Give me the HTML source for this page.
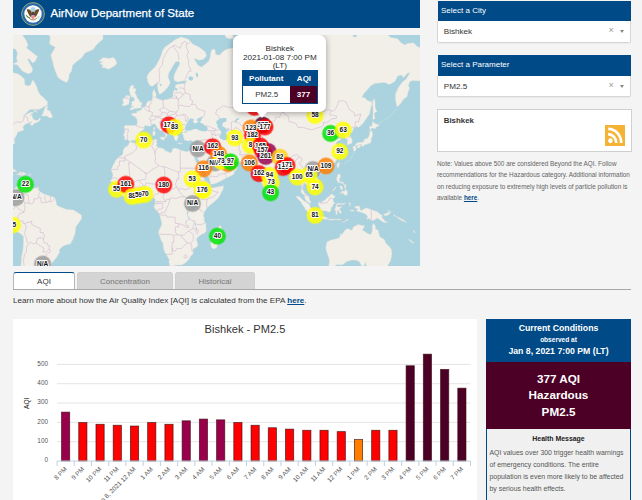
<!DOCTYPE html>
<html>
<head>
<meta charset="utf-8">
<title>AirNow Department of State</title>
<style>
*{box-sizing:border-box;margin:0;padding:0}
html,body{width:642px;height:500px;overflow:hidden;background:#f4f4f4;font-family:"Liberation Sans",sans-serif;color:#333}
.abs{position:absolute}
#hdr{left:13px;top:0;width:407px;height:27.5px;background:#004a87}
#hdr .t{-webkit-text-stroke:.25px #fff;position:absolute;left:37.5px;top:5px;font-size:11.55px;color:#fff;white-space:nowrap;line-height:16px}
#map{left:13px;top:35px;width:407px;height:230.5px;background:#aad3df;overflow:hidden}
.ph{background:#004a87;color:#fff;font-size:8px;line-height:20.6px;padding-left:3.5px;height:20.6px;left:437.5px;width:193.5px;white-space:nowrap}
.sel{left:437.2px;width:194.3px;height:21.5px;background:#fff;border:1px solid #d6d6d6;border-top:none;border-radius:0 0 2px 2px;font-size:8.1px;line-height:21.6px;padding-left:5.6px;color:#333;box-shadow:0 1px 1px rgba(0,0,0,.04)}
.sel .x{position:absolute;left:170.3px;top:-1px;font-size:9px;color:#999}
.sel .ar{position:absolute;left:181.8px;top:9px;width:0;height:0;border-left:2.7px solid transparent;border-right:2.7px solid transparent;border-top:3px solid #888}
#cityb{left:437px;top:109.3px;width:194.7px;height:42.5px;background:#fff;border:1px solid #d0d0d0}
#cityb b{position:absolute;left:5.7px;top:4.7px;font-size:7.9px;color:#333;line-height:11px}
#note{left:437px;top:157.8px;width:196px;font-size:6.37px;line-height:11.4px;color:#636363;white-space:nowrap}
#note a{color:#004a87;font-weight:bold;text-decoration:underline}
.tab{top:271.5px;height:18px;border-radius:3px 3px 0 0;font-size:8px;line-height:17px;text-align:center;color:#777;background:#d4d4d4;border:1px solid #cfcfcf;border-bottom:none}
#tab1{left:13px;width:62px;background:#fff;color:#333;border:1px solid #b8b8b8;border-top:1.5px solid #004a87;border-bottom:none;height:18px}
#tabline{left:13px;top:289px;width:618px;height:1px;background:#a8a8a8}
#learn{left:13px;top:296.1px;font-size:8.09px;line-height:10px;color:#333;white-space:nowrap}
#learn a{color:#004a87;font-weight:bold;text-decoration:underline}
#chart{left:13px;top:318.5px;width:463.5px;height:182px;background:#fff}
#cc{left:486px;top:318.5px;width:145px;height:182px;background:#f0f0f0;border:1px solid #004a87;border-top:none}
#cc .h{position:absolute;left:-1px;top:0;width:145px;height:43.5px;background:#004a87;color:#fff;text-align:center;font-weight:bold}
#cc .m{position:absolute;left:-1px;top:43.5px;width:145px;height:66.5px;background:#4c0026;color:#fff;text-align:center;font-weight:bold;font-size:11.7px;line-height:16.3px;padding-top:9px}
#cc .hm{position:absolute;left:2.5px;top:114px;width:142px;font-size:6.9px;line-height:12px;color:#555;white-space:nowrap}
#cc .hh{font-weight:bold;color:#222;text-align:center;font-size:6.95px;line-height:12px;margin-left:-4px;margin-bottom:2.3px}
</style>
</head>
<body>
<div id="hdr" class="abs"><svg class="abs" style="left:8.4px;top:1.6px" width="24" height="24" viewBox="-12 -12 24 24">
<circle r="11.4" fill="#2a69b0" stroke="#9fae6a" stroke-width=".9"/>
<circle r="8.7" fill="#fbfbf8"/>
<circle cx="0" cy="-4.6" r="2.5" fill="#a9d3e6"/>
<path d="M-1.2 -1.5C-2.5 -4.5 -4.5 -5.2 -6.3 -4.2C-5.2 -1.5 -4.2 1.5 -2 3.2L-1 1.5Z" fill="#6b4a23"/>
<path d="M1.2 -1.5C2.5 -4.5 4.5 -5.2 6.3 -4.2C5.2 -1.5 4.2 1.5 2 3.2L1 1.5Z" fill="#6b4a23"/>
<path d="M-1.3 -2.2h2.6v3h-2.6z" fill="#5a4526"/>
<path d="M-1.9 0h3.8v1.2h-3.8z" fill="#27457e"/>
<path d="M-1.9 1.2h3.8v1.6c0 1.2-1 1.9-1.9 2.3c-.9-.4-1.9-1.1-1.9-2.3z" fill="#f08a8a"/>
<path d="M-7.2 1.2c.8 1.8 2.2 2.9 4.2 3.2l.2-.9c-1.800-.4-2.9-1.200-3.600-2.700z" fill="#4f8a3c"/>
<path d="M3.200 3.600l3.600-1.400M3.200 4.200l3.300-.2" stroke="#b9b39a" stroke-width=".5"/>
<path d="M-3.5 4.500c1 .9 2.200 1.400 3.500 1.400s2.500-.5 3.500-1.400" stroke="#6b5a3a" stroke-width=".7" fill="none"/>
</svg><div class="t">AirNow Department of State</div></div>
<div id="map" class="abs"><svg class="abs" style="left:0;top:0" width="407" height="230.5" viewBox="0 0 407 230.5">
<path d="M168.4 2.1L162.8 4.2L157.2 8.4L151.5 12.6L149.4 16.1L148.0 21.0L145.2 26.6L142.4 31.6L138.9 35.1L135.4 38.6L134.0 42.1L134.7 46.3L136.8 50.5L139.6 51.2L143.1 48.4L144.5 47.0L144.5 51.9L145.2 56.1L146.6 59.6L151.5 56.1L155.1 51.9L157.2 47.7L155.1 42.1L155.8 37.9L159.3 32.3L162.1 27.3L165.6 25.9L167.0 28.8L164.2 33.7L162.1 37.9L160.7 42.1L161.4 45.6L164.9 47.0L169.1 46.0L174.0 45.6L171.9 48.4L166.3 49.1L162.8 49.8L162.1 52.6L164.9 54.0L163.7 56.1L161.4 54.7L160.0 57.5L160.0 61.7L157.2 63.8L153.6 64.5L149.4 65.2L146.6 64.5L143.1 63.1L143.1 58.9L141.7 56.1L141.0 54.0L139.6 57.5L139.6 63.1L138.9 65.9L140.2 65.4L137.7 65.7L136.1 66.0L134.1 67.1L133.3 69.2L132.0 71.4L130.3 72.1L128.8 72.9L128.7 74.5L126.5 75.8L124.2 76.5L123.6 75.8L123.6 78.3L121.3 78.0L118.5 78.8L119.1 80.5L122.1 81.5L122.9 82.9L124.2 84.8L124.2 87.9L123.6 90.6L120.4 90.6L116.3 90.4L113.0 90.2L111.1 91.5L111.7 94.0L111.9 96.6L110.7 99.6L110.6 101.1L111.7 101.8L111.7 103.6L111.4 104.7L113.2 104.7L114.7 104.3L115.8 105.5L117.0 106.7L118.8 105.3L122.6 105.3L123.6 103.8L125.0 103.2L126.2 101.1L125.7 99.4L127.5 96.6L129.8 95.3L131.5 93.6L131.1 91.3L132.8 90.6L134.9 91.1L137.1 91.3L138.7 90.0L140.7 88.6L143.0 89.7L143.5 92.0L145.6 93.8L146.9 95.3L148.9 95.8L149.9 97.1L151.9 98.4L152.5 100.5L152.0 102.6L152.9 102.6L154.3 100.5L153.5 99.2L154.2 97.3L156.3 98.4L156.7 97.7L154.5 96.2L152.5 95.1L152.5 94.2L150.9 94.0L149.2 92.2L148.6 90.4L146.6 88.8L146.4 86.5L148.6 85.5L148.8 87.2L150.1 86.7L151.2 89.0L152.9 90.6L155.0 91.8L156.7 93.1L158.1 94.4L158.1 97.3L159.1 99.0L160.8 100.9L161.1 103.0L161.9 105.1L163.2 105.7L164.2 105.7L164.1 104.0L165.0 103.0L165.7 102.6L164.4 100.5L163.7 99.4L163.6 97.7L164.9 97.9L165.7 96.8L168.2 96.4L169.0 97.1L170.1 97.5L169.3 98.4L170.3 100.5L170.3 101.8L171.1 103.4L171.1 105.1L172.8 105.3L174.4 106.1L176.4 105.9L177.2 104.9L179.7 106.5L181.8 106.3L183.5 105.1L185.5 105.1L185.3 107.1L185.1 109.7L184.6 110.9L183.8 113.1L183.2 115.0L182.5 116.0L181.5 116.4L179.9 116.4L179.4 116.0L179.7 118.5L180.5 120.8L181.8 122.3L182.6 122.8L183.6 119.4L183.8 122.3L186.3 126.0L187.4 128.7L189.6 132.3L190.6 134.4L192.0 137.6L194.0 140.2L196.2 142.8L196.8 145.7L197.5 148.2L197.8 149.2L200.3 149.1L203.6 147.9L206.9 146.5L210.1 144.8L212.1 143.6L214.3 142.4L216.7 141.4L219.2 140.2L221.2 138.4L221.3 136.2L223.0 135.5L224.6 132.3L222.7 130.3L220.0 129.2L219.0 127.8L218.9 125.6L218.4 126.3L217.2 127.2L215.7 128.9L212.8 129.2L211.1 129.1L211.1 127.2L210.5 125.8L209.8 126.9L209.7 128.0L208.8 126.7L208.7 124.9L206.9 123.0L206.0 121.3L205.2 119.6L205.2 118.5L206.7 117.7L208.5 118.1L209.8 120.4L211.0 122.5L213.4 124.5L215.9 124.9L218.9 123.9L220.0 124.5L220.5 126.5L222.5 126.9L225.9 127.2L227.6 127.4L230.7 127.2L233.2 127.2L235.7 127.1L236.5 128.1L237.3 129.8L238.5 130.1L239.8 132.5L240.1 132.8L241.9 135.1L243.1 135.3L244.9 134.6L245.5 132.8L245.9 134.1L246.0 136.7L246.0 138.4L246.9 141.9L247.7 144.5L248.8 147.9L250.1 150.7L251.6 153.8L252.8 156.1L253.8 156.9L254.9 155.8L256.2 154.9L257.6 153.3L257.7 151.2L258.4 148.5L258.0 145.3L259.5 143.6L261.7 142.6L263.6 140.5L266.1 137.7L268.6 136.2L269.4 134.2L271.0 133.7L272.7 133.5L275.2 132.6L276.8 131.9L277.6 134.1L278.1 135.5L280.1 137.6L281.4 139.3L281.7 142.8L281.4 143.6L283.1 144.0L284.5 142.8L285.9 142.1L287.0 143.3L287.2 145.7L287.8 147.9L288.5 150.4L288.7 152.9L288.0 155.4L288.0 157.1L289.2 158.8L291.1 160.1L291.5 162.1L292.1 164.0L293.1 165.7L295.1 167.2L296.6 168.2L297.7 168.0L297.4 166.2L296.4 164.5L296.4 162.9L295.2 160.9L294.3 160.1L292.9 158.9L291.6 158.4L291.0 156.3L289.6 154.9L289.5 152.9L290.5 150.7L290.8 148.2L292.3 148.0L292.8 149.2L294.6 150.1L295.7 151.6L296.9 152.8L298.7 153.1L299.0 155.4L298.7 156.1L299.9 155.4L301.8 153.3L302.8 153.1L305.3 151.6L306.1 149.6L306.1 147.4L305.3 144.5L303.6 142.6L301.5 140.5L300.2 138.4L300.7 136.7L302.0 135.3L304.0 134.1L305.6 133.9L306.8 134.2L307.1 136.0L308.1 135.8L308.1 134.4L310.2 133.7L313.0 132.8L314.2 132.6L316.3 131.7L318.3 130.8L320.4 128.9L322.6 126.7L323.4 124.5L324.9 122.3L326.5 120.0L327.0 118.5L325.9 117.7L326.8 116.8L326.7 115.2L325.0 113.5L324.2 110.3L322.6 108.7L324.2 106.5L327.8 104.7L327.7 103.6L325.4 103.4L322.9 104.3L321.9 103.0L320.1 101.3L320.1 100.1L322.1 100.1L325.4 96.8L327.2 97.1L325.7 100.1L326.5 100.7L328.7 99.2L330.8 98.6L332.3 99.6L331.9 102.0L332.4 103.2L334.6 104.3L334.3 106.7L334.4 109.1L334.1 109.9L336.1 109.3L338.5 108.5L339.2 106.7L339.2 104.7L337.7 102.0L336.1 99.4L336.9 98.4L339.7 96.4L339.7 95.1L341.2 93.1L343.5 91.3L345.4 92.4L348.4 90.0L350.9 87.2L353.3 83.6L356.6 78.8L357.5 73.7L358.9 69.2L358.6 66.5L356.6 66.2L353.3 64.8L352.2 62.9L348.9 62.3L350.9 58.5L354.2 55.0L357.5 50.9L361.6 48.4L366.5 48.1L371.5 47.4L376.4 49.4L379.7 47.7L382.2 46.1L384.6 41.1L388.7 40.0L390.4 42.8L394.5 38.3L397.0 37.6L395.0 41.1L392.9 44.5L389.6 46.8L385.4 52.5L384.1 55.6L382.6 58.5L382.3 62.9L383.0 67.6L384.1 72.1L387.3 69.0L390.5 64.3L394.2 61.5L394.8 57.7L396.6 53.1L395.3 50.6L397.0 46.4L399.8 45.5L406.5 46.1L409.3 42.8L413.4 40.0L417.5 37.6L420.8 35.8L422.5 28.2L422.5 11.4L415.9 8.1L407.0 12.5L404.4 11.7L400.5 7.8L394.2 8.6L391.9 10.1L388.0 7.8L384.9 3.9L377.1 2.3L374.0 -1.0L344.0 -1.0L343.6 1.5L341.0 2.3L339.0 -1.0L249.6 -8.9L245.5 -0.8L246.0 9.0L247.2 15.8L244.7 22.2L243.1 22.2L244.7 13.6L243.9 4.2L239.8 -8.9L236.0 6.7L239.0 13.6L231.5 10.0L225.0 12.3L216.7 13.6L216.8 13.3L211.2 15.4L206.2 20.3L202.7 19.6L202.0 14.7L199.2 14.0L197.8 17.5L197.1 22.4L195.7 25.9L192.9 28.8L190.8 30.2L188.7 32.3L185.2 30.2L183.1 27.3L181.0 23.1L185.9 25.2L190.1 24.5L193.6 21.0L192.2 16.8L185.9 11.9L179.6 9.1L175.4 4.2ZM116.5 107.1L117.5 106.9L121.3 108.1L122.9 108.5L124.6 107.3L126.2 106.9L128.7 105.7L131.1 105.1L134.4 105.1L137.7 104.7L140.4 104.9L142.3 104.0L143.2 105.1L144.3 104.7L143.6 105.9L143.6 107.7L144.3 108.7L143.0 110.1L144.0 111.3L145.1 112.3L146.8 113.1L148.1 112.9L151.2 114.1L151.7 115.6L155.0 116.8L157.5 117.9L159.1 116.6L159.1 114.3L161.6 112.9L164.1 113.5L167.3 115.0L170.6 116.0L173.9 116.8L176.1 115.8L178.0 115.6L179.4 116.0L179.7 118.5L180.0 120.4L181.3 122.6L182.2 125.0L183.8 128.1L184.8 129.8L186.9 133.2L187.4 134.9L187.6 137.4L189.6 140.2L190.9 143.6L191.5 145.0L193.7 146.2L196.0 148.4L197.3 149.6L197.5 151.1L197.3 151.4L198.6 152.9L201.9 152.4L205.2 151.7L207.7 151.4L210.5 150.6L210.3 152.9L209.8 154.9L208.2 157.4L206.9 160.4L205.2 162.9L202.7 165.4L200.8 167.0L197.8 169.5L195.3 171.8L193.7 173.6L192.4 175.2L191.4 177.2L190.7 179.4L190.1 181.0L191.2 182.2L191.1 184.8L191.7 187.0L192.9 188.0L193.0 191.9L193.4 194.4L192.9 196.6L191.2 198.4L188.7 199.2L186.9 200.4L184.6 202.5L183.5 203.7L183.8 205.7L184.6 207.8L184.6 211.0L183.0 212.6L180.5 213.5L179.9 214.6L180.4 217.4L179.5 219.6L177.7 221.3L175.9 224.4L173.1 227.3L170.6 229.1L168.5 229.9L164.9 230.1L162.4 230.3L159.1 231.5L157.1 230.5L156.5 230.5L156.3 227.9L155.8 226.9L156.3 225.0L154.7 222.1L153.4 219.5L152.0 217.4L150.9 214.6L150.1 211.0L150.1 208.5L148.4 205.7L146.8 201.6L145.6 199.0L145.6 197.0L146.4 194.4L148.3 191.0L148.9 188.5L148.3 186.0L147.9 184.8L147.3 181.8L146.3 180.2L146.4 178.5L145.6 177.7L144.3 176.4L142.2 174.1L141.0 171.9L141.5 170.0L142.3 168.7L142.0 166.7L142.3 165.0L141.8 163.7L140.7 162.9L139.9 162.9L137.7 163.1L136.1 163.2L134.8 161.7L133.6 160.1L131.8 159.7L130.3 159.9L128.2 160.2L127.0 160.9L125.9 161.2L123.2 162.4L121.6 162.1L119.6 161.7L116.3 162.4L113.9 163.1L111.4 161.7L108.4 159.9L107.3 158.9L105.6 157.9L104.5 156.3L104.3 154.9L103.6 154.4L102.3 152.9L101.5 152.1L100.2 150.7L98.7 149.7L98.5 148.2L98.2 146.5L97.4 145.8L98.1 145.3L99.0 143.6L99.4 141.9L99.9 140.2L99.5 137.9L99.0 136.7L98.1 135.1L98.2 134.1L99.4 131.9L100.0 130.1L101.5 128.1L102.3 125.8L104.0 124.1L104.8 122.5L107.3 121.3L109.4 119.8L110.2 117.7L110.1 115.6L111.1 113.5L112.5 111.9L113.7 111.5L115.0 110.5L116.0 108.7ZM207.3 190.2L208.8 193.6L209.3 196.1L208.2 197.8L207.7 200.4L206.5 204.8L204.9 209.2L203.6 212.8L200.6 213.9L198.6 212.8L197.5 208.0L199.1 204.8L199.1 201.3L198.6 198.7L199.4 197.3L202.4 196.5L204.1 194.9L205.2 192.7L206.5 191.0ZM116.8 74.7L118.8 71.9L121.3 71.4L117.6 70.6L119.1 69.0L118.6 67.3L119.1 66.2L121.3 66.0L121.3 63.7L120.4 62.0L118.0 62.0L118.0 60.0L116.8 60.3L117.1 57.1L116.0 55.6L116.8 53.1L118.0 50.6L120.9 50.6L120.4 53.4L122.9 53.7L122.9 55.6L121.6 58.0L122.9 59.1L123.7 61.5L124.2 62.9L126.2 65.1L126.7 67.1L128.8 67.6L129.0 69.2L127.8 70.8L128.5 71.9L127.0 72.9L124.6 73.2L122.9 73.4L120.4 73.7L120.1 74.5L117.6 75.0ZM115.7 69.2L113.0 70.3L110.1 71.1L109.2 69.5L110.6 67.9L110.1 66.2L109.7 63.7L112.2 63.2L112.0 61.5L114.2 60.3L116.3 60.9L117.1 62.9L116.2 64.6L116.2 67.1ZM85.9 26.3L90.0 22.6L96.6 23.5L99.9 22.2L102.3 24.3L104.0 28.2L101.5 30.9L95.7 34.3L91.6 32.8L88.8 32.4L90.0 30.2L86.7 28.6L90.0 27.1ZM30.7 -8.9L35.7 -0.8L37.3 2.7L36.5 9.0L42.3 12.3L37.8 20.1L40.1 28.2L40.6 31.3L42.9 37.6L44.6 41.7L46.7 44.1L51.3 46.4L53.8 47.4L55.8 43.4L56.2 39.3L58.7 35.8L59.5 30.2L64.3 25.9L68.6 23.1L71.9 18.0L80.1 14.5L84.2 9.0L90.0 4.2L90.0 -8.9ZM341.7 110.7L344.3 107.7L346.8 107.5L350.1 107.3L351.4 104.7L352.2 103.6L354.2 103.8L355.8 101.5L356.6 98.8L356.6 96.8L358.3 95.3L359.1 97.3L359.9 99.4L359.1 102.0L358.3 103.6L358.0 105.7L358.0 107.3L356.6 108.7L356.1 107.9L355.0 108.7L354.2 109.3L352.0 109.5L351.4 109.9L349.7 111.7L348.6 110.3L348.9 109.5L346.8 109.5L345.1 110.1L343.8 110.7ZM341.7 110.9L343.0 112.1L343.3 113.7L342.3 115.8L341.3 116.6L340.5 116.0L340.7 113.7L339.7 112.7L339.7 111.9L340.8 111.3ZM344.3 110.7L346.8 109.9L347.9 110.7L347.3 112.1L345.1 113.1L344.1 112.3ZM356.6 95.1L357.1 93.3L356.3 92.7L357.3 91.1L358.8 91.3L359.4 88.3L359.6 86.3L361.6 88.3L363.7 89.5L365.4 88.8L365.7 91.1L363.2 92.0L362.1 94.0L359.9 92.9L358.3 93.1L358.0 94.4ZM359.9 84.8L362.2 83.4L361.2 80.0L361.6 77.5L364.0 77.0L362.1 72.4L362.1 67.1L361.2 63.4L359.9 65.7L359.6 69.8L360.1 75.0L359.9 80.0L359.8 83.4ZM325.4 127.4L326.8 127.8L326.2 130.5L325.0 133.2L324.0 131.4L324.2 129.2ZM305.1 138.1L306.4 136.7L308.6 136.7L308.9 137.6L307.9 139.1L306.4 139.8L305.1 139.1ZM257.7 154.1L259.2 154.9L260.8 157.9L260.7 159.6L258.9 160.6L257.9 160.1L257.6 157.9L257.6 155.8ZM283.1 161.1L286.7 161.7L288.7 164.0L290.8 165.7L292.4 166.7L296.6 169.5L297.1 171.9L298.2 173.3L300.7 175.2L300.5 179.9L299.5 179.9L298.2 179.5L295.7 177.9L294.4 176.6L292.4 174.4L291.3 171.9L289.2 169.5L288.3 167.3L286.7 165.7L285.0 164.0L283.4 162.1ZM299.4 181.5L300.7 180.0L302.0 180.4L304.8 181.2L308.1 181.7L308.9 180.9L311.5 181.7L314.5 183.0L314.7 184.5L312.2 184.0L308.9 183.8L305.6 183.0L303.1 183.0L301.3 182.3ZM315.5 183.7L317.1 184.0L318.8 184.2L322.1 184.2L323.7 184.0L328.3 184.0L328.3 184.8L323.7 184.8L322.1 184.8L318.8 185.2L317.1 185.0L315.8 184.8ZM329.5 187.3L331.9 185.2L335.2 184.2L335.6 184.7L331.9 186.2L330.3 187.2ZM305.6 167.3L306.6 167.0L308.9 167.7L309.6 166.0L312.2 165.0L313.8 162.9L316.1 161.4L318.3 158.9L319.1 158.9L319.9 159.9L322.4 161.6L320.8 162.9L319.9 164.4L320.4 166.5L322.1 168.7L320.1 169.1L319.6 171.6L318.0 172.8L318.0 175.2L317.1 176.7L314.8 177.1L313.5 175.9L310.6 175.9L307.6 175.1L307.3 172.8L305.9 171.1L305.6 169.5ZM323.4 169.0L325.0 168.2L328.7 168.8L331.1 168.3L332.3 167.7L331.1 169.6L328.7 169.6L325.4 169.6L324.0 170.3L323.9 171.6L325.7 171.9L329.2 171.8L327.0 173.4L326.2 173.6L328.3 176.9L328.3 178.2L326.5 178.0L325.5 175.2L324.4 174.9L324.4 178.0L324.2 179.4L322.9 179.4L322.9 176.1L321.7 174.9L322.6 172.3L323.4 170.3ZM324.7 139.3L327.3 139.3L327.5 141.9L326.4 144.0L326.4 146.5L327.8 146.7L330.3 147.4L330.5 149.4L328.7 148.2L326.7 147.5L324.9 147.4L324.7 146.2L323.7 145.3L323.7 143.3L324.4 141.0ZM327.0 158.8L329.3 156.1L331.5 156.3L332.8 154.3L334.1 156.3L334.4 158.8L333.6 159.9L332.8 160.9L332.3 160.1L330.3 159.1L330.3 157.8L328.7 157.9L327.3 158.9ZM330.8 149.6L332.4 149.6L333.1 151.7L332.3 153.4L331.5 153.3L331.6 151.6ZM327.0 150.7L329.0 151.2L329.5 152.9L329.2 154.9L328.0 154.8L327.8 152.9L327.0 152.9ZM319.3 156.4L321.3 154.9L322.9 152.8L322.9 151.6L321.7 153.3L320.1 154.9ZM336.1 167.0L336.9 168.3L338.0 168.2L336.9 169.5L337.5 171.5L336.6 170.8L336.2 169.0ZM336.9 175.2L339.4 174.9L341.5 175.7L340.2 176.2L337.7 176.1ZM341.8 171.6L344.3 171.0L346.8 171.6L347.1 174.4L348.4 175.7L350.9 173.9L353.3 172.9L358.3 174.6L361.6 175.9L364.0 176.6L366.2 178.5L369.0 180.2L369.5 181.5L368.2 181.5L369.8 183.5L372.3 186.3L374.4 187.3L373.1 187.8L369.8 187.0L367.3 185.0L364.0 183.0L362.4 184.2L360.8 185.5L358.3 185.3L355.8 183.5L353.3 184.2L354.7 181.8L353.3 179.4L350.1 177.9L345.9 176.6L344.8 176.9L343.5 174.9L345.9 174.1L343.5 173.6L341.8 172.6ZM370.3 179.5L373.1 178.5L375.6 177.2L376.9 177.4L376.4 179.0L373.9 180.5L371.5 180.5ZM314.0 207.1L317.1 205.3L320.4 204.4L322.9 203.9L325.9 203.0L327.5 200.4L327.3 198.7L329.5 199.2L330.3 197.5L332.8 194.4L335.2 193.6L337.2 194.9L339.4 195.1L339.9 192.7L341.5 190.9L344.3 190.4L344.6 189.2L348.4 190.5L351.4 190.5L350.9 192.7L349.2 194.9L351.7 196.6L355.0 198.7L358.0 199.6L359.3 195.3L359.3 191.5L360.3 188.2L362.4 191.0L362.4 194.1L365.4 195.3L365.7 197.8L366.8 201.8L369.0 202.9L371.5 204.8L372.6 208.0L374.4 209.8L377.2 212.5L378.4 214.6L378.9 218.7L378.2 223.1L377.2 226.5L375.2 229.5L374.3 232.5L373.1 237.0L357.5 238.0L355.8 233.9L354.2 231.9L352.9 229.9L353.0 227.1L351.7 229.3L350.1 231.9L348.9 231.1L347.1 227.9L345.9 226.3L342.2 225.0L338.5 225.2L333.6 226.5L329.6 229.7L323.7 229.7L320.4 231.9L317.1 231.9L315.7 230.5L316.6 225.9L315.5 222.1L314.2 218.3L313.0 214.6L313.0 211.0ZM211.0 -1.4L213.4 2.7L216.7 3.7L220.8 3.2L218.4 -3.5L213.4 -8.9ZM179.4 108.7L180.5 109.5L182.2 108.7L183.2 107.5L181.3 107.9L179.7 108.3ZM164.9 107.7L166.5 107.9L169.5 108.3L167.3 108.9L164.9 108.3ZM146.6 102.6L148.4 102.2L151.9 102.0L151.1 104.7L150.9 105.3L147.6 103.8ZM139.7 100.5L139.9 96.6L141.3 95.8L142.3 97.3L142.0 100.1L141.0 100.5ZM140.4 93.1L141.7 91.8L141.8 94.0L141.3 95.3L140.5 94.7ZM130.2 99.4L131.3 98.6L131.8 99.2L131.1 99.9ZM-8.8 118.5L-3.8 112.7L-2.0 110.9L0.3 109.3L1.9 108.3L1.1 105.1L1.9 103.0L2.8 101.5L4.2 98.8L4.4 97.3L7.7 96.2L11.0 94.9L9.8 92.7L11.0 90.2L13.4 88.8L15.9 87.9L17.6 87.0L19.5 85.8L17.9 88.1L17.2 90.0L19.2 90.6L21.7 88.3L25.8 86.5L27.4 84.8L26.9 82.4L25.0 85.3L22.5 85.3L20.0 84.1L19.5 82.2L19.2 80.5L17.1 80.0L20.5 78.0L19.2 77.0L15.9 78.0L13.4 79.3L11.0 81.7L9.0 82.9L11.8 79.5L14.3 77.0L16.7 74.5L20.9 74.2L25.8 74.5L29.1 72.9L32.4 71.1L34.5 69.8L34.4 66.5L32.0 64.3L29.9 62.0L27.4 60.0L25.0 56.2L24.1 52.5L21.7 47.7L19.7 44.8L18.4 47.7L17.6 50.0L14.3 50.9L11.8 49.4L11.5 44.5L10.2 42.8L7.7 40.7L4.4 38.6L-0.5 37.6L-2.2 37.9L-8.8 39.3ZM28.6 81.0L30.4 77.0L31.6 73.7L32.7 71.6L34.8 70.8L34.0 74.5L34.8 75.2L37.3 76.3L38.1 78.8L39.5 81.0L38.6 83.2L37.3 82.7L35.7 82.4L34.0 81.0L31.6 81.0ZM20.0 75.2L22.5 75.5L24.6 77.3L22.5 77.0ZM-1.0 -1.0L8.5 -1.0L13.0 5.0L15.0 10.0L13.5 13.0L18.0 16.5L24.5 21.5L22.0 26.5L19.5 28.0L16.5 24.0L14.5 24.0L17.0 29.0L19.5 33.5L19.0 37.2L15.0 38.8L9.5 36.2L4.5 30.0L0.0 29.0L4.5 27.0L3.5 23.0L4.5 18.0L2.5 14.0L-1.0 13.5ZM-8.8 156.1L-1.0 156.1L1.9 153.1L3.1 152.1L8.2 149.7L9.3 152.1L11.0 150.1L14.3 152.9L20.9 153.4L24.1 152.6L25.8 155.4L30.7 159.1L35.7 160.6L40.6 162.2L42.3 163.7L43.9 170.3L47.2 171.9L53.8 174.4L60.4 174.9L62.8 176.4L68.3 179.9L68.8 183.5L65.3 188.5L62.8 191.9L62.0 198.7L59.9 204.4L57.1 209.2L55.1 209.2L50.0 211.0L46.4 214.6L46.4 217.6L43.9 222.1L40.4 226.3L38.3 229.3L33.7 231.7L30.7 233.9L30.7 242.2L6.0 242.2L8.3 227.9L8.5 222.1L10.0 214.6L10.5 207.4L10.5 201.3L7.7 198.7L2.8 196.1L0.6 193.2L-0.9 190.2L-3.0 186.0L-5.2 181.8L-8.8 178.5ZM3.6 139.7L6.0 139.8L8.2 140.7L11.0 139.7L13.6 139.1L11.3 137.7L8.2 136.9L6.0 136.9L6.4 138.4L3.7 139.1ZM-8.8 131.4L-5.5 131.2L-0.5 133.7L1.9 134.9L4.1 136.3L-0.5 136.9L-1.7 135.6L-3.8 133.9L-8.8 132.3ZM15.6 139.3L18.2 139.5L17.9 140.2L15.6 140.2ZM-2.7 139.5L0.6 140.0L-0.5 140.5L-2.7 140.0ZM24.5 152.6L26.0 152.4L25.8 153.6L24.3 153.6ZM383.8 181.2L385.4 182.3L389.2 184.2L390.9 186.0L389.6 186.2L386.3 184.0L384.0 182.2ZM390.4 184.0L391.7 185.7L393.3 187.8L392.0 187.5L390.7 185.5ZM396.1 204.3L398.6 206.0L401.1 208.0L399.9 208.0L397.5 206.4L395.8 204.6ZM400.4 195.3L401.6 196.3L402.4 198.0L401.6 197.7L400.4 196.3ZM374.4 174.6L376.9 176.1L378.2 177.9L377.4 177.7L375.6 175.7ZM380.7 179.4L382.2 180.5L382.8 181.7L381.7 181.4L380.8 180.2Z" fill="#f2efe9" stroke="#e4dfd6" stroke-width=".4" stroke-linejoin="round"/>
<path d="M122.6 108.5L123.7 113.7L120.3 117.2L117.1 118.9L111.9 121.0L111.9 123.6M111.9 123.6L111.9 126.0L106.4 126.0L106.4 130.7L104.8 131.4L104.8 134.4L98.2 134.4M111.9 122.9L104.6 122.9M111.9 123.6L118.3 127.8L128.1 134.8L128.2 135.5L131.5 137.0L131.6 138.4L133.2 138.2L135.7 137.7L138.5 135.1L146.0 130.5M118.3 127.8L115.5 128.0L117.0 142.8L117.5 144.5L110.9 144.5L108.6 144.6L107.3 144.3L106.1 145.7M99.0 143.4L101.5 142.6L104.0 143.4L106.1 145.7L107.4 149.7M98.7 149.9L103.6 149.4L107.4 149.7L111.6 150.1L112.5 152.1L113.0 153.4L116.0 152.8L117.1 153.1L121.6 154.4M98.5 147.7L103.2 147.9L103.2 148.4L98.7 148.5M101.5 152.1L103.6 150.9L103.6 149.4M104.3 155.4L108.6 153.8L109.2 156.3L107.3 158.9M109.2 156.3L110.9 158.1L112.2 157.8L112.5 159.7L113.9 163.1M113.0 153.4L112.5 156.3L112.2 157.8M121.6 154.4L121.8 157.4L120.9 160.4L121.1 161.9M126.2 152.1L127.0 157.1L127.2 158.9L128.2 160.2M127.7 152.1L128.8 155.4L128.8 159.9M132.1 150.9L132.1 153.8L130.6 157.1L130.6 159.7M117.1 153.1L117.6 150.7L119.0 149.6L119.6 148.0L121.6 147.0L122.9 146.2L125.0 145.3L126.5 145.5L127.7 147.7L129.8 149.7L130.2 150.6L132.1 150.9M121.6 154.4L121.6 152.1L126.0 152.1L127.7 152.1L130.2 150.6M133.2 138.2L133.1 142.1L132.1 144.5L128.3 144.8L126.5 145.5M132.1 150.9L132.8 147.9L137.7 148.7L141.0 149.1L143.5 148.2L148.4 147.5L149.4 148.5M146.0 130.5L149.6 132.1L150.9 131.4L151.9 136.7L151.7 142.1L148.4 146.2L148.6 147.5M140.4 104.9L139.9 108.7L138.5 111.1L141.0 114.7L141.8 118.1L143.2 115.2L145.1 112.3M141.8 118.1L142.3 121.7L142.5 125.0L141.7 125.6L142.7 128.1L146.0 130.5M150.9 131.4L165.7 137.6L165.7 136.7L167.3 136.7L167.3 133.2L167.3 120.0L166.9 118.1L167.7 115.4M167.3 133.2L177.9 133.2L186.9 133.2M165.7 137.6L165.7 144.1L163.9 144.1L163.2 147.0L162.4 149.4L163.9 152.1L161.9 152.8L157.5 155.4L154.2 157.6L151.7 157.9L149.2 153.8L151.2 152.4L150.2 149.2L149.4 148.5M149.4 148.5L148.6 151.2L146.3 155.4L145.1 159.1L142.7 158.9L140.7 160.7L140.4 162.7M142.3 166.5L144.8 166.7L148.1 166.7L152.7 166.7L150.2 162.9L150.1 160.4L151.7 157.9M142.3 168.7L144.8 168.7L144.8 166.7M144.8 168.7L147.9 168.2L149.9 168.7L149.1 170.3L150.1 172.9L147.6 174.3L145.3 174.1L144.3 176.7M152.7 166.7L153.5 164.5L156.8 164.5L156.8 163.2L159.1 162.9L163.1 163.5L166.5 161.9L171.3 161.9M156.8 164.5L155.5 169.5L153.4 173.6L152.2 176.9L151.2 177.5L147.8 177.9L146.3 179.9M163.9 152.1L165.0 153.9L169.0 153.8L172.3 154.8L175.6 153.8L178.9 150.4L180.8 150.1L180.7 152.6L182.3 154.6L182.2 156.3L180.5 157.4L184.3 161.4L185.3 162.7L182.2 163.4L179.5 164.2L177.1 164.5L174.8 162.9L171.3 161.9L167.8 158.3L166.0 155.9L165.0 153.9M182.3 154.6L182.7 152.8L183.8 150.4L185.6 149.2L186.3 146.5L187.1 141.9L189.7 140.2M186.3 146.5L188.6 145.7L192.0 146.2L195.0 147.9L196.0 149.6L197.1 149.2M196.0 149.6L195.0 152.1L197.0 152.1L197.5 151.2M197.0 152.1L197.5 154.4L200.3 156.1L203.6 157.1L205.2 157.1L200.3 162.1L197.8 162.6L195.3 163.5L195.2 163.9L191.2 164.7L188.9 164.4L186.9 163.1L185.3 162.7M195.2 163.9L193.7 165.7L193.7 171.6L194.7 173.1M182.2 163.4L183.8 167.5L182.3 169.8L182.0 171.9L188.1 175.2L188.3 176.1L190.7 178.0M177.1 164.5L177.7 166.8L175.4 169.0L174.9 172.6L176.4 172.1L182.0 171.9M174.9 172.6L173.9 174.7L174.6 177.5M176.4 172.1L176.9 174.3L176.2 175.2L174.6 177.5M173.9 174.7L176.9 174.3M177.2 184.5L180.4 185.8L182.0 186.2M183.6 189.4L187.9 189.7L192.7 187.7M146.3 179.9L147.6 180.0L153.5 180.0L154.2 182.3L158.1 181.8L159.1 182.3L162.1 182.3L162.4 188.5L165.7 188.5L165.7 191.9L162.4 191.9L162.4 197.3L164.7 199.7M165.7 189.0L167.8 189.2L170.5 190.0L171.0 191.0L173.9 192.6L175.3 192.6L175.3 190.5L173.9 190.9L172.9 189.9L173.3 185.5L176.9 183.8M145.6 199.2L149.2 199.4L156.5 199.4L160.8 200.3L164.7 199.7L167.8 200.1M160.8 200.9L160.8 207.4L159.1 207.4L159.1 212.5L159.1 219.1L153.4 219.5M159.1 212.5L159.9 216.1L162.4 215.9L164.1 213.4L168.2 213.9L170.5 211.0L174.6 207.8M167.8 200.1L169.0 203.0L171.8 204.8L172.3 206.5L174.6 207.8L177.7 208.1M167.8 200.1L170.6 200.4L173.8 197.0L176.2 196.3M176.2 196.3L178.9 198.2L180.5 199.6L180.0 202.2L180.5 203.9L179.7 206.2L177.7 208.1L178.9 211.9L178.7 214.5L179.0 216.1L180.4 216.3M175.9 195.3L180.5 193.6L180.0 192.9L180.8 189.5L181.0 186.2L180.4 185.8M180.5 193.6L183.0 194.4L185.3 195.1L185.1 197.0L184.3 198.9L182.8 197.5L183.2 194.3M171.0 221.3L172.6 219.6L174.4 221.0L173.1 223.2L171.3 222.7L171.0 221.3M111.7 94.2L115.5 94.2L114.8 98.4L114.2 99.4L114.7 102.2L114.0 104.3M123.2 90.9L127.4 92.2L131.5 93.1M138.5 90.0L137.7 87.2L137.7 85.1L136.1 84.4L137.7 81.5L138.7 81.0L139.7 77.5L136.7 76.3L135.7 76.3L133.1 75.0L130.3 72.1M136.7 76.3L136.2 74.7L136.1 72.4L136.4 70.0L137.7 69.2L138.1 66.5M131.8 71.4L134.4 71.4L136.1 72.4M137.7 85.1L140.2 84.8L141.0 84.8L143.5 82.7L142.0 81.2L140.4 80.7L138.7 81.0M142.0 81.2L147.6 81.2L148.9 78.0L146.4 74.5L150.6 72.4L150.2 68.4L149.7 64.6M150.6 72.4L154.0 74.2L157.1 76.3L163.4 77.3L165.7 73.4L165.0 69.8L165.5 64.6L163.7 63.2L158.6 63.2M143.5 82.7L146.3 82.4L148.8 83.6L148.6 85.8M148.9 78.0L150.9 77.5L154.2 78.5L154.3 80.0L153.4 82.4L152.7 82.9L148.8 83.6M154.3 80.0L157.1 80.5L159.1 79.5L162.6 79.0L163.9 80.0L160.8 84.4L159.4 84.6L157.1 85.1L153.4 83.6L152.7 82.9M154.2 78.5L157.1 76.3M163.9 80.0L167.2 80.7L170.0 79.5L172.5 82.9L172.6 86.0L175.1 86.7M160.8 84.4L161.6 86.7L163.4 88.1L163.9 90.0L168.2 90.2L170.6 89.3L173.3 90.2M148.6 85.8L151.4 86.0L153.4 83.6M151.4 86.0L152.2 86.7L152.5 89.0L155.2 91.8L156.7 92.9M157.1 85.1L157.5 87.4L158.1 89.0L157.8 90.6L156.7 92.9M152.2 86.7L157.5 87.4M158.1 89.0L159.6 92.2L158.1 94.2M159.6 92.2L163.1 93.3L163.9 90.0M159.6 92.2L160.1 94.2L159.9 96.2M159.1 99.0L160.8 96.6L164.1 95.5L167.3 95.5L169.5 94.7L169.7 96.4M169.5 94.7L172.3 94.0M163.1 93.3L164.1 95.5M159.9 96.2L160.8 96.6M165.0 71.1L167.3 70.0L171.5 71.1L176.4 71.6L178.5 69.5L182.2 69.0L184.6 74.0L188.7 75.2L192.0 76.0L191.5 80.3L189.1 82.2M162.6 79.0L163.4 77.3M170.0 79.5L172.6 79.5L175.6 83.9L172.6 86.0M164.9 64.6L168.7 62.0L170.0 59.4L172.6 58.0L177.1 59.7L177.2 64.3L180.0 66.0L178.5 69.5M160.8 58.3L167.2 57.4L170.0 59.4M166.2 52.8L169.0 53.1L171.3 54.0L171.8 55.9L172.6 58.0M171.3 54.0L171.3 50.0L172.5 48.1M163.7 63.2L164.9 64.6M160.8 60.6L163.7 61.5L163.7 63.2M172.0 44.5L175.6 36.5L178.2 36.1L175.4 29.0L175.7 25.5L173.9 20.6L175.6 17.2L173.1 11.8L173.9 9.0M166.0 25.1L165.2 18.4L160.1 10.9L161.3 10.0L167.3 13.2L169.0 8.1L172.3 6.2L173.9 9.0L176.9 7.6M145.1 49.4L146.8 44.5L146.3 41.1L146.0 33.9L149.2 30.2L150.1 23.9L153.2 18.0L156.0 13.6L160.1 10.9M140.5 61.7L142.5 62.0M114.2 61.2L112.7 62.9L116.2 64.0M194.5 95.1L197.8 96.0L198.0 97.7L199.9 99.0M192.0 90.9L196.2 91.3L198.6 92.7L202.6 94.2L204.1 95.5L206.0 94.4M202.6 94.2L202.7 96.0L200.3 95.5L201.1 96.8L201.9 99.0L202.7 100.7M197.8 96.0L200.3 95.5M199.9 99.0L202.7 100.7L205.2 99.0L206.7 101.8M206.2 118.5L204.7 116.6L205.0 114.7L202.1 112.7L200.9 110.7L202.2 108.3L200.9 106.7L199.9 104.3L199.0 101.8L198.8 99.6L199.9 99.0M185.3 106.9L186.4 106.3L186.6 105.3L189.6 105.1L193.7 104.5L196.0 104.5L199.9 104.3M196.0 104.5L194.0 105.9L194.3 107.5L193.7 109.9L190.1 111.9L186.8 114.1L185.0 113.3M190.1 111.9L190.7 114.3L187.1 115.6L188.7 117.5L187.9 118.5L185.6 120.0L183.8 119.6M190.7 114.3L192.7 114.9L195.3 116.4L199.8 120.0L202.7 120.2L204.7 121.3L205.9 121.3M202.7 120.2L204.2 118.3L205.2 118.5M184.0 112.5L184.8 112.1L185.0 113.3L184.6 115.6L183.8 119.4M182.5 116.0L183.6 119.4M184.8 112.1L186.1 109.7L185.5 109.5M196.6 142.9L197.3 141.2L199.3 141.2L203.2 141.6L204.4 141.9L205.5 139.8L207.0 139.1L211.8 138.4L213.6 142.4M211.8 138.4L216.7 136.7L217.9 133.2L217.1 131.9L212.8 131.6L211.1 129.2M217.1 131.9L218.4 129.4L219.0 128.0M202.7 79.0L203.6 75.0L206.4 73.4L210.1 70.6L215.9 72.4L220.0 72.4L224.1 73.4L227.4 72.4L227.4 65.1L233.2 63.2L239.8 60.6L243.1 63.7L247.2 64.3L252.1 63.7L254.4 66.2L257.9 72.9L262.8 72.4L266.6 76.0L269.9 77.3M202.7 79.0L205.2 80.5L206.9 83.9M270.7 77.0L274.3 75.0L278.5 72.9L282.6 75.0L286.7 75.5L288.8 69.5L294.4 71.6L295.7 74.2L299.0 74.0L302.3 75.5L304.8 76.8L308.1 77.0L312.2 76.0L314.7 74.5L318.3 75.5M270.7 77.0L271.0 78.8L275.2 81.2L276.0 86.7L280.1 87.4L283.2 88.8L284.9 92.4L290.8 92.7L294.1 93.6L299.0 94.9L303.1 93.1L307.3 92.4L310.4 90.2L310.4 87.2L313.2 87.7L316.3 86.0L318.0 84.1L323.2 83.2L323.6 81.2L320.4 80.0L317.1 80.3L316.5 79.5L318.3 75.5M318.3 75.5L320.1 76.3L322.6 74.2L325.0 68.1L325.4 66.2L329.6 65.7L333.1 67.1L336.1 74.5L341.3 77.8L341.8 80.7L345.1 79.8L347.9 79.0L345.4 87.2L343.1 86.5L341.8 87.7L342.3 90.9L341.2 93.1M341.2 93.1L339.7 92.0L336.9 94.0L335.1 94.4L331.0 98.4M334.7 103.0L337.5 101.3M269.9 77.3L267.3 79.0L266.9 82.2L262.8 82.0L261.7 86.0L258.5 87.2L259.2 91.3L258.2 93.6L254.6 96.0L252.6 96.4L249.5 97.3L247.3 99.4L247.7 101.3L249.5 101.5L249.3 104.3M249.3 104.3L251.0 105.3L254.3 107.7L256.1 110.1L255.7 113.5L256.6 113.7L255.9 116.2L259.5 118.1L263.6 120.0L267.8 122.3L271.2 122.5M258.0 120.8L260.7 122.5L263.3 123.4L266.1 124.5L271.2 125.2L271.2 122.5M258.0 120.8L259.5 118.1M271.2 122.5L272.5 123.6L273.8 121.9L277.0 122.6L277.8 124.3L274.2 124.7L272.5 123.6M277.0 122.6L280.9 120.2L284.2 119.6L286.4 121.9M238.5 130.1L243.1 128.9L241.4 126.0L241.7 122.6L244.7 121.9L247.0 118.5L249.0 116.4L248.8 113.3L248.0 110.7L250.5 109.3L252.9 108.7L254.3 107.7M249.3 104.3L243.9 105.9L243.4 109.1L241.4 110.7L240.4 114.7L236.5 116.2L235.3 118.7L229.1 119.6L226.4 118.9L229.6 121.9L230.2 124.1L228.7 125.2L227.6 127.4M226.4 118.9L227.9 116.6L226.3 115.6L225.9 111.5L226.9 107.5L229.9 107.7L232.4 105.9L235.7 103.8L238.1 104.7L240.6 103.4L243.1 101.8L244.1 104.7L245.9 104.3L249.3 104.3M226.9 107.5L225.8 105.5L223.0 103.2L218.9 102.4L216.4 103.8L214.9 104.0M212.5 94.4L215.1 93.3L218.4 95.5L218.4 87.2L222.7 85.8L226.6 88.6L228.3 90.6L233.0 90.2L234.8 93.1L234.8 94.2L238.1 96.2L241.4 94.0L243.1 93.3L247.2 91.8L250.8 92.2L256.2 92.2L258.2 93.6M218.4 95.5L220.0 95.5L222.7 92.4L225.0 93.6L228.1 96.0L229.1 98.4L232.2 100.7L235.7 103.8M243.1 93.3L242.1 96.2L246.4 96.6L244.1 97.9L242.6 98.4L242.2 99.2L247.3 99.4M242.2 99.2L238.8 99.4L237.8 104.3M271.7 125.0L272.4 126.9L271.4 128.7L272.4 131.4L272.7 133.5M278.6 134.4L278.0 131.4L276.5 130.3L278.0 128.1L274.0 127.2L274.0 126.0L271.7 125.0M278.1 135.5L278.6 134.4L279.6 132.8L279.9 129.6L282.1 126.9L282.9 124.9L286.4 121.9L288.7 123.0L288.7 126.1L286.8 128.1L287.0 129.8L289.2 131.0L289.5 133.0L291.0 134.1L292.8 134.6L294.3 132.5L297.2 132.1L299.7 131.0L301.8 131.7L301.8 133.3L304.0 134.1M291.0 134.1L291.0 136.0L288.8 137.0L287.0 139.3L288.7 143.1L287.8 145.0L289.5 148.7L290.1 150.7L288.8 153.1M294.3 132.5L296.1 135.3L298.4 136.0L297.4 137.7L299.4 139.1L301.5 142.1L303.1 145.3L303.3 145.8L303.1 149.9L300.7 150.9L300.5 152.3L298.2 153.1M291.0 136.0L291.6 137.6L292.8 137.6L292.4 141.0L294.1 140.3L297.4 139.7L298.7 141.2L298.5 143.1L300.0 144.5L299.9 146.3L300.7 147.0L303.3 145.8M299.9 146.3L295.7 146.5L294.9 147.9L295.6 150.9M291.0 159.7L292.6 160.9L294.3 160.1M306.6 167.0L308.1 168.8L310.6 167.8L313.8 167.8L315.5 165.5L316.6 163.4L319.8 163.4M358.3 174.6L358.3 185.3M330.5 185.8L331.9 184.7L332.3 185.8M8.8 150.7L6.0 154.9L7.0 158.1L11.0 158.8L15.1 160.1L15.4 164.7L16.1 168.3L18.4 169.0L20.9 167.0L20.9 163.7L23.0 164.0L25.8 162.9L26.3 161.7L25.1 160.6L27.4 156.3M26.3 161.7L27.8 162.9L28.1 167.3L30.7 167.8L33.2 167.2L36.3 166.5L39.1 166.7L41.1 163.7M32.0 160.6L31.9 164.7L33.2 167.2M36.3 166.5L37.3 164.5L37.3 160.9M16.1 168.3L11.3 167.5L12.0 169.3L11.0 170.3L12.0 172.3L11.0 177.2L6.2 174.3L2.3 170.5L-1.4 169.1L-3.5 168.0M2.3 170.5L1.9 172.8L-2.7 175.9M11.0 177.2L6.4 178.7L4.6 182.3L6.2 185.8L10.0 186.0L10.2 188.5L11.6 188.3L13.1 191.0L12.6 194.8L11.8 197.3L11.8 199.6L13.4 203.0L13.9 206.5L15.6 208.9L13.6 211.9L13.4 216.5L11.3 220.2L10.5 225.9L11.1 229.9L10.2 233.9M11.6 188.3L18.7 186.5L18.7 189.4L24.1 192.4L27.3 193.1L27.1 197.5L30.2 197.5L30.2 199.2L31.6 200.8L30.4 203.6L30.4 204.3L30.9 207.6L34.5 208.3L35.0 211.0L36.8 211.2L36.3 213.9L37.6 216.8L34.4 218.9L31.4 222.5L34.7 223.6L38.1 227.1L38.3 229.3M30.4 204.3L28.9 202.7L24.5 203.2L23.2 208.0L20.4 208.9L17.6 207.1L15.6 208.9M23.2 208.0L27.4 211.0L31.2 213.4L29.7 216.8L33.4 217.2L36.3 213.9M31.4 222.5L30.4 226.9L30.1 229.9M15.9 87.2L14.6 85.5L14.6 82.2L12.6 81.5L11.0 83.2L10.5 85.1L8.5 87.2L3.2 87.2L0.6 89.0L-2.2 90.4M8.2 137.2L8.2 140.2" fill="none" stroke="#c4a0c2" stroke-opacity=".7" stroke-width=".6" stroke-linejoin="round"/>
<path d="M172.3 95.1L173.9 95.8L178.0 95.5L181.3 94.0L183.8 94.0L186.3 95.5L189.6 96.2L192.9 96.2L194.7 94.9L194.5 92.4L192.0 90.6L189.6 88.6L187.8 87.7L186.4 86.7L187.9 86.0L188.7 83.6L190.7 82.0L187.9 82.2L184.6 83.6L183.8 85.5L185.5 86.5L184.6 87.2L182.2 88.6L181.3 88.1L179.7 86.3L181.3 84.8L178.9 83.6L177.2 83.4L175.6 85.3L174.9 87.2L173.6 88.3L173.3 90.6L172.1 91.8L172.1 93.3ZM170.3 97.3L171.5 96.4L173.9 96.2L174.8 96.8L173.6 97.5L171.5 97.5ZM203.6 86.0L206.9 83.6L210.1 82.9L213.4 82.9L213.4 86.5L210.6 87.2L210.1 88.3L209.0 88.8L210.1 91.8L212.6 92.7L213.1 94.4L215.9 94.4L215.9 96.2L213.4 96.4L213.4 99.4L215.1 100.9L215.1 104.0L212.6 105.1L210.1 105.3L208.5 103.8L206.9 103.4L206.7 101.8L207.2 99.9L207.7 97.7L209.0 97.5L207.7 96.2L206.0 94.0L204.4 91.8L204.4 89.5L203.1 88.1ZM222.2 85.3L223.3 83.4L226.6 83.2L225.8 84.8L223.8 85.3L223.0 88.3L222.2 88.3ZM247.2 86.5L248.8 83.4L251.3 83.2L256.2 83.2L256.2 84.4L252.1 84.4L249.6 84.8L248.0 87.2ZM297.1 70.8L299.0 70.8L303.1 67.9L306.4 62.9L307.3 59.4L305.6 59.7L304.0 64.3L300.7 67.6ZM178.5 171.9L179.7 170.0L182.2 169.8L182.7 171.1L181.8 173.9L180.2 175.1L178.5 174.1ZM174.3 175.9L175.3 177.7L174.8 180.2L176.4 182.7L177.4 184.7L176.4 184.3L174.8 181.8L173.9 178.5ZM182.0 186.2L183.2 188.5L183.0 191.0L184.1 194.1L183.2 193.9L182.3 190.2L182.2 187.7ZM175.4 42.5L177.0 41.2L179.5 41.8L180.3 44.0L178.5 45.8L176.0 45.0ZM182.6 38.0L184.0 37.6L185.3 40.0L184.8 42.2L183.2 41.5ZM146.6 50.9L147.9 48.4L149.2 49.7L147.6 51.3Z" fill="#aad3df"/>
<path d="M367.0 88.1L376.4 81.7L383.0 74.0M341.0 117.7L336.9 124.9L330.6 128.9" fill="none" stroke="#f2efe9" stroke-opacity=".7" stroke-width=".9" stroke-dasharray="1.2 1.6"/>
</svg>
<svg class="abs" style="left:0;top:0" width="407" height="230.5" viewBox="13 35 407 230.5" font-family="Liberation Sans, sans-serif" font-weight="bold" font-size="6.5" text-anchor="middle"><circle cx="16" cy="197.6" r="9" fill="#9b9b9b" fill-opacity=".35"/><circle cx="16" cy="197.6" r="8.1" fill="#9b9b9b" fill-opacity=".75"/><circle cx="25.4" cy="184.4" r="9" fill="#00e400" fill-opacity=".35"/><circle cx="25.4" cy="184.4" r="8.1" fill="#00e400" fill-opacity=".75"/><circle cx="12.6" cy="225" r="9" fill="#ffff00" fill-opacity=".35"/><circle cx="12.6" cy="225" r="8.1" fill="#ffff00" fill-opacity=".75"/><circle cx="42.6" cy="264" r="9" fill="#9b9b9b" fill-opacity=".35"/><circle cx="42.6" cy="264" r="8.1" fill="#9b9b9b" fill-opacity=".75"/><circle cx="143.7" cy="140.1" r="9" fill="#ffff00" fill-opacity=".35"/><circle cx="143.7" cy="140.1" r="8.1" fill="#ffff00" fill-opacity=".75"/><circle cx="168.9" cy="124.9" r="9" fill="#ff0000" fill-opacity=".35"/><circle cx="168.9" cy="124.9" r="8.1" fill="#ff0000" fill-opacity=".75"/><circle cx="174.6" cy="127.4" r="9" fill="#ffff00" fill-opacity=".35"/><circle cx="174.6" cy="127.4" r="8.1" fill="#ffff00" fill-opacity=".75"/><circle cx="116.5" cy="189.3" r="9" fill="#ffff00" fill-opacity=".35"/><circle cx="116.5" cy="189.3" r="8.1" fill="#ffff00" fill-opacity=".75"/><circle cx="125.8" cy="184.3" r="9" fill="#ff0000" fill-opacity=".35"/><circle cx="125.8" cy="184.3" r="8.1" fill="#ff0000" fill-opacity=".75"/><circle cx="132" cy="196.5" r="9" fill="#ffff00" fill-opacity=".35"/><circle cx="132" cy="196.5" r="8.1" fill="#ffff00" fill-opacity=".75"/><circle cx="138.5" cy="195.5" r="9" fill="#ffff00" fill-opacity=".35"/><circle cx="138.5" cy="195.5" r="8.1" fill="#ffff00" fill-opacity=".75"/><circle cx="145" cy="194.4" r="9" fill="#ffff00" fill-opacity=".35"/><circle cx="145" cy="194.4" r="8.1" fill="#ffff00" fill-opacity=".75"/><circle cx="163.8" cy="185" r="9" fill="#ff0000" fill-opacity=".35"/><circle cx="163.8" cy="185" r="8.1" fill="#ff0000" fill-opacity=".75"/><circle cx="198" cy="149" r="9" fill="#9b9b9b" fill-opacity=".35"/><circle cx="198" cy="149" r="8.1" fill="#9b9b9b" fill-opacity=".75"/><circle cx="212.6" cy="146.8" r="9" fill="#ff0000" fill-opacity=".35"/><circle cx="212.6" cy="146.8" r="8.1" fill="#ff0000" fill-opacity=".75"/><circle cx="214.9" cy="163" r="9" fill="#9b9b9b" fill-opacity=".35"/><circle cx="214.9" cy="163" r="8.1" fill="#9b9b9b" fill-opacity=".75"/><circle cx="218.6" cy="154.3" r="9" fill="#ff7e00" fill-opacity=".35"/><circle cx="218.6" cy="154.3" r="8.1" fill="#ff7e00" fill-opacity=".75"/><circle cx="228" cy="163.6" r="9" fill="#ff7e00" fill-opacity=".35"/><circle cx="228" cy="163.6" r="8.1" fill="#ff7e00" fill-opacity=".75"/><circle cx="221.1" cy="161.2" r="9" fill="#ffff00" fill-opacity=".35"/><circle cx="221.1" cy="161.2" r="8.1" fill="#ffff00" fill-opacity=".75"/><circle cx="230.5" cy="161.8" r="9" fill="#00e400" fill-opacity=".35"/><circle cx="230.5" cy="161.8" r="8.1" fill="#00e400" fill-opacity=".75"/><circle cx="203.6" cy="168.8" r="9" fill="#ff7e00" fill-opacity=".35"/><circle cx="203.6" cy="168.8" r="8.1" fill="#ff7e00" fill-opacity=".75"/><circle cx="192.2" cy="179.1" r="9" fill="#ffff00" fill-opacity=".35"/><circle cx="192.2" cy="179.1" r="8.1" fill="#ffff00" fill-opacity=".75"/><circle cx="203.2" cy="190.3" r="9" fill="#ffff00" fill-opacity=".35"/><circle cx="203.2" cy="190.3" r="8.1" fill="#ffff00" fill-opacity=".75"/><circle cx="202.3" cy="189.9" r="9" fill="#ffff00" fill-opacity=".35"/><circle cx="202.3" cy="189.9" r="8.1" fill="#ffff00" fill-opacity=".75"/><circle cx="192.5" cy="203.5" r="9" fill="#9b9b9b" fill-opacity=".35"/><circle cx="192.5" cy="203.5" r="8.1" fill="#9b9b9b" fill-opacity=".75"/><circle cx="234.8" cy="138" r="9" fill="#ffff00" fill-opacity=".35"/><circle cx="234.8" cy="138" r="8.1" fill="#ffff00" fill-opacity=".75"/><circle cx="254.5" cy="107.3" r="9" fill="#ff0000" fill-opacity=".35"/><circle cx="254.5" cy="107.3" r="8.1" fill="#ff0000" fill-opacity=".75"/><circle cx="262.6" cy="125.2" r="9" fill="#4c0026" fill-opacity=".35"/><circle cx="262.6" cy="125.2" r="8.1" fill="#4c0026" fill-opacity=".75"/><circle cx="265" cy="127" r="9" fill="#ff0000" fill-opacity=".35"/><circle cx="265" cy="127" r="8.1" fill="#ff0000" fill-opacity=".75"/><circle cx="251" cy="128" r="9" fill="#ff7e00" fill-opacity=".35"/><circle cx="251" cy="128" r="8.1" fill="#ff7e00" fill-opacity=".75"/><circle cx="252.5" cy="135.5" r="9" fill="#ff0000" fill-opacity=".35"/><circle cx="252.5" cy="135.5" r="8.1" fill="#ff0000" fill-opacity=".75"/><circle cx="250.5" cy="145.5" r="9" fill="#ffff00" fill-opacity=".35"/><circle cx="250.5" cy="145.5" r="8.1" fill="#ffff00" fill-opacity=".75"/><circle cx="260.5" cy="146" r="9" fill="#ff0000" fill-opacity=".35"/><circle cx="260.5" cy="146" r="8.1" fill="#ff0000" fill-opacity=".75"/><circle cx="268.2" cy="151.5" r="9" fill="#99004c" fill-opacity=".35"/><circle cx="268.2" cy="151.5" r="8.1" fill="#99004c" fill-opacity=".75"/><circle cx="262.5" cy="150.8" r="9" fill="#ff0000" fill-opacity=".35"/><circle cx="262.5" cy="150.8" r="8.1" fill="#ff0000" fill-opacity=".75"/><circle cx="265.8" cy="156.5" r="9" fill="#99004c" fill-opacity=".35"/><circle cx="265.8" cy="156.5" r="8.1" fill="#99004c" fill-opacity=".75"/><circle cx="249.4" cy="162.9" r="9" fill="#ff7e00" fill-opacity=".35"/><circle cx="249.4" cy="162.9" r="8.1" fill="#ff7e00" fill-opacity=".75"/><circle cx="279.8" cy="157.2" r="9" fill="#ffd21a" fill-opacity=".35"/><circle cx="279.8" cy="157.2" r="8.1" fill="#ffd21a" fill-opacity=".75"/><circle cx="283.2" cy="167.6" r="9" fill="#ff0000" fill-opacity=".35"/><circle cx="283.2" cy="167.6" r="8.1" fill="#ff0000" fill-opacity=".75"/><circle cx="287" cy="165.6" r="9" fill="#ff0000" fill-opacity=".35"/><circle cx="287" cy="165.6" r="8.1" fill="#ff0000" fill-opacity=".75"/><circle cx="259" cy="173.6" r="9" fill="#ff0000" fill-opacity=".35"/><circle cx="259" cy="173.6" r="8.1" fill="#ff0000" fill-opacity=".75"/><circle cx="269.4" cy="175.4" r="9" fill="#ffff00" fill-opacity=".35"/><circle cx="269.4" cy="175.4" r="8.1" fill="#ffff00" fill-opacity=".75"/><circle cx="271.2" cy="182.6" r="9" fill="#ffff00" fill-opacity=".35"/><circle cx="271.2" cy="182.6" r="8.1" fill="#ffff00" fill-opacity=".75"/><circle cx="270.6" cy="192.8" r="9" fill="#00e400" fill-opacity=".35"/><circle cx="270.6" cy="192.8" r="8.1" fill="#00e400" fill-opacity=".75"/><circle cx="297.3" cy="177.1" r="9" fill="#ffff00" fill-opacity=".35"/><circle cx="297.3" cy="177.1" r="8.1" fill="#ffff00" fill-opacity=".75"/><circle cx="313" cy="169.5" r="9" fill="#9b9b9b" fill-opacity=".35"/><circle cx="313" cy="169.5" r="8.1" fill="#9b9b9b" fill-opacity=".75"/><circle cx="309" cy="175" r="9" fill="#ffff00" fill-opacity=".35"/><circle cx="309" cy="175" r="8.1" fill="#ffff00" fill-opacity=".75"/><circle cx="326" cy="166" r="9" fill="#ff7e00" fill-opacity=".35"/><circle cx="326" cy="166" r="8.1" fill="#ff7e00" fill-opacity=".75"/><circle cx="315" cy="187" r="9" fill="#ffff00" fill-opacity=".35"/><circle cx="315" cy="187" r="8.1" fill="#ffff00" fill-opacity=".75"/><circle cx="315.1" cy="215.4" r="9" fill="#ffff00" fill-opacity=".35"/><circle cx="315.1" cy="215.4" r="8.1" fill="#ffff00" fill-opacity=".75"/><circle cx="217.4" cy="236.2" r="9" fill="#00e400" fill-opacity=".35"/><circle cx="217.4" cy="236.2" r="8.1" fill="#00e400" fill-opacity=".75"/><circle cx="315" cy="115.6" r="9" fill="#ffff00" fill-opacity=".35"/><circle cx="315" cy="115.6" r="8.1" fill="#ffff00" fill-opacity=".75"/><circle cx="330.6" cy="133.4" r="9" fill="#00e400" fill-opacity=".35"/><circle cx="330.6" cy="133.4" r="8.1" fill="#00e400" fill-opacity=".75"/><circle cx="343.2" cy="130" r="9" fill="#ffff00" fill-opacity=".35"/><circle cx="343.2" cy="130" r="8.1" fill="#ffff00" fill-opacity=".75"/><circle cx="339.8" cy="151.5" r="9" fill="#ffff00" fill-opacity=".35"/><circle cx="339.8" cy="151.5" r="8.1" fill="#ffff00" fill-opacity=".75"/><text x="16" y="199.2" stroke="#fff" stroke-width="2" stroke-linejoin="round" paint-order="stroke" fill="#111">N/A</text><text x="25.4" y="186.0" stroke="#fff" stroke-width="2" stroke-linejoin="round" paint-order="stroke" fill="#111">22</text><text x="14.4" y="226.6" stroke="#fff" stroke-width="2" stroke-linejoin="round" paint-order="stroke" fill="#111">5</text><text x="42.6" y="265.6" stroke="#fff" stroke-width="2" stroke-linejoin="round" paint-order="stroke" fill="#111">N/A</text><text x="143.7" y="141.7" stroke="#fff" stroke-width="2" stroke-linejoin="round" paint-order="stroke" fill="#111">70</text><text x="168.9" y="126.5" stroke="#fff" stroke-width="2" stroke-linejoin="round" paint-order="stroke" fill="#111">174</text><text x="174.6" y="129.0" stroke="#fff" stroke-width="2" stroke-linejoin="round" paint-order="stroke" fill="#111">83</text><text x="116.5" y="190.9" stroke="#fff" stroke-width="2" stroke-linejoin="round" paint-order="stroke" fill="#111">55</text><text x="125.8" y="185.9" stroke="#fff" stroke-width="2" stroke-linejoin="round" paint-order="stroke" fill="#111">161</text><text x="132" y="198.1" stroke="#fff" stroke-width="2" stroke-linejoin="round" paint-order="stroke" fill="#111">88</text><text x="138.5" y="197.1" stroke="#fff" stroke-width="2" stroke-linejoin="round" paint-order="stroke" fill="#111">59</text><text x="145" y="196.0" stroke="#fff" stroke-width="2" stroke-linejoin="round" paint-order="stroke" fill="#111">70</text><text x="163.8" y="186.6" stroke="#fff" stroke-width="2" stroke-linejoin="round" paint-order="stroke" fill="#111">180</text><text x="198" y="150.6" stroke="#fff" stroke-width="2" stroke-linejoin="round" paint-order="stroke" fill="#111">N/A</text><text x="212.6" y="148.4" stroke="#fff" stroke-width="2" stroke-linejoin="round" paint-order="stroke" fill="#111">162</text><text x="214.9" y="164.6" stroke="#fff" stroke-width="2" stroke-linejoin="round" paint-order="stroke" fill="#111">N/A</text><text x="218.6" y="155.9" stroke="#fff" stroke-width="2" stroke-linejoin="round" paint-order="stroke" fill="#111">148</text><text x="228" y="165.2" stroke="#fff" stroke-width="2" stroke-linejoin="round" paint-order="stroke" fill="#111">112</text><text x="221.1" y="162.8" stroke="#fff" stroke-width="2" stroke-linejoin="round" paint-order="stroke" fill="#111">73</text><text x="230.5" y="163.4" stroke="#fff" stroke-width="2" stroke-linejoin="round" paint-order="stroke" fill="#111">97</text><text x="203.6" y="170.4" stroke="#fff" stroke-width="2" stroke-linejoin="round" paint-order="stroke" fill="#111">116</text><text x="192.2" y="180.7" stroke="#fff" stroke-width="2" stroke-linejoin="round" paint-order="stroke" fill="#111">53</text><text x="203.2" y="191.9" stroke="#fff" stroke-width="2" stroke-linejoin="round" paint-order="stroke" fill="#111">76</text><text x="202.3" y="191.5" stroke="#fff" stroke-width="2" stroke-linejoin="round" paint-order="stroke" fill="#111">176</text><text x="192.5" y="205.1" stroke="#fff" stroke-width="2" stroke-linejoin="round" paint-order="stroke" fill="#111">N/A</text><text x="234.8" y="139.6" stroke="#fff" stroke-width="2" stroke-linejoin="round" paint-order="stroke" fill="#111">93</text><text x="262.6" y="126.8" stroke="#fff" stroke-width="2" stroke-linejoin="round" paint-order="stroke" fill="#111">377</text><text x="265" y="128.6" stroke="#fff" stroke-width="2" stroke-linejoin="round" paint-order="stroke" fill="#111">177</text><text x="251" y="129.6" stroke="#fff" stroke-width="2" stroke-linejoin="round" paint-order="stroke" fill="#111">123</text><text x="252.5" y="137.1" stroke="#fff" stroke-width="2" stroke-linejoin="round" paint-order="stroke" fill="#111">182</text><text x="250.5" y="147.1" stroke="#fff" stroke-width="2" stroke-linejoin="round" paint-order="stroke" fill="#111">8</text><text x="260.5" y="147.6" stroke="#fff" stroke-width="2" stroke-linejoin="round" paint-order="stroke" fill="#111">165</text><text x="262.5" y="152.4" stroke="#fff" stroke-width="2" stroke-linejoin="round" paint-order="stroke" fill="#111">157</text><text x="265.8" y="158.1" stroke="#fff" stroke-width="2" stroke-linejoin="round" paint-order="stroke" fill="#111">261</text><text x="249.4" y="164.5" stroke="#fff" stroke-width="2" stroke-linejoin="round" paint-order="stroke" fill="#111">106</text><text x="279.8" y="158.8" stroke="#fff" stroke-width="2" stroke-linejoin="round" paint-order="stroke" fill="#111">82</text><text x="283.2" y="169.2" stroke="#fff" stroke-width="2" stroke-linejoin="round" paint-order="stroke" fill="#111">155</text><text x="287" y="167.2" stroke="#fff" stroke-width="2" stroke-linejoin="round" paint-order="stroke" fill="#111">171</text><text x="259" y="175.2" stroke="#fff" stroke-width="2" stroke-linejoin="round" paint-order="stroke" fill="#111">162</text><text x="269.4" y="177.0" stroke="#fff" stroke-width="2" stroke-linejoin="round" paint-order="stroke" fill="#111">94</text><text x="271.2" y="184.2" stroke="#fff" stroke-width="2" stroke-linejoin="round" paint-order="stroke" fill="#111">73</text><text x="270.6" y="194.4" stroke="#fff" stroke-width="2" stroke-linejoin="round" paint-order="stroke" fill="#111">43</text><text x="297.3" y="178.7" stroke="#fff" stroke-width="2" stroke-linejoin="round" paint-order="stroke" fill="#111">100</text><text x="313" y="171.1" stroke="#fff" stroke-width="2" stroke-linejoin="round" paint-order="stroke" fill="#111">N/A</text><text x="309" y="176.6" stroke="#fff" stroke-width="2" stroke-linejoin="round" paint-order="stroke" fill="#111">65</text><text x="326" y="167.6" stroke="#fff" stroke-width="2" stroke-linejoin="round" paint-order="stroke" fill="#111">109</text><text x="315" y="188.6" stroke="#fff" stroke-width="2" stroke-linejoin="round" paint-order="stroke" fill="#111">74</text><text x="315.1" y="217.0" stroke="#fff" stroke-width="2" stroke-linejoin="round" paint-order="stroke" fill="#111">81</text><text x="217.4" y="237.8" stroke="#fff" stroke-width="2" stroke-linejoin="round" paint-order="stroke" fill="#111">40</text><text x="315" y="117.2" stroke="#fff" stroke-width="2" stroke-linejoin="round" paint-order="stroke" fill="#111">58</text><text x="330.6" y="135.0" stroke="#fff" stroke-width="2" stroke-linejoin="round" paint-order="stroke" fill="#111">36</text><text x="343.2" y="131.6" stroke="#fff" stroke-width="2" stroke-linejoin="round" paint-order="stroke" fill="#111">63</text><text x="339.8" y="153.1" stroke="#fff" stroke-width="2" stroke-linejoin="round" paint-order="stroke" fill="#111">92</text></svg>
<div class="abs" style="left:219.9px;top:0.2px;width:93.2px;height:77.3px;background:#fff;border-radius:6.5px;box-shadow:0 1px 6px rgba(0,0,0,.35)"></div>
<svg class="abs" style="left:243.5px;top:77px" width="11" height="7" viewBox="0 0 11 7"><path d="M0 0H10L5 6Z" fill="#fff"/></svg>
<div class="abs" style="left:220.6px;top:9.7px;width:92.4px;text-align:center;font-size:8.1px;line-height:8.85px;color:#2a2a2a">Bishkek<br>2021-01-08 7:00 PM<br>(LT)</div>
<div class="abs" style="left:229px;top:35px;width:75.6px;height:33.6px;background:#004a87"></div>
<div class="abs" style="left:230px;top:51.4px;width:47.4px;height:16.2px;background:#fff"></div>
<div class="abs" style="left:277.4px;top:51.4px;width:26.2px;height:16.2px;background:#4c0026"></div>
<div class="abs" style="left:229px;top:38.5px;width:48.4px;text-align:center;font-size:8px;line-height:10px;font-weight:bold;color:#fff">Pollutant</div>
<div class="abs" style="left:277.4px;top:38.5px;width:27.2px;text-align:center;font-size:8px;line-height:10px;font-weight:bold;color:#fff">AQI</div>
<div class="abs" style="left:230px;top:54.5px;width:47.4px;text-align:center;font-size:8px;line-height:10px;color:#333">PM2.5</div>
<div class="abs" style="left:277.4px;top:54.5px;width:26.2px;text-align:center;font-size:8px;line-height:10px;font-weight:bold;color:#fff">377</div>
</div>

<div class="abs ph" style="top:.7px">Select a City</div>
<div class="abs sel" style="top:21px">Bishkek<span class="x">×</span><span class="ar"></span></div>
<div class="abs ph" style="top:55px">Select a Parameter</div>
<div class="abs sel" style="top:75.6px">PM2.5<span class="x">×</span><span class="ar"></span></div>
<div id="cityb" class="abs"><b>Bishkek</b><svg style="position:absolute;left:166.5px;top:15px" width="20.3" height="21" viewBox="0 0 21 20" preserveAspectRatio="none"><rect width="21" height="20" fill="#f5b335"/><circle cx="5.6" cy="15" r="2.3" fill="#fff"/><path d="M3.3 8.800a8.400 8.400 0 0 1 8.400 8.400" fill="none" stroke="#fff" stroke-width="2.700"/><path d="M3.300 3.700a13.500 13.500 0 0 1 13.500 13.500" fill="none" stroke="#fff" stroke-width="2.700"/></svg></div>
<div id="note" class="abs">Note: Values above 500 are considered Beyond the AQI. Follow<br>recommendations for the Hazardous category. Additional information<br>on reducing exposure to extremely high levels of particle pollution is<br>available <a>here</a>.</div>

<div class="abs tab" id="tab1">AQI</div>
<div class="abs tab" style="left:77px;width:96px">Concentration</div>
<div class="abs tab" style="left:175px;width:80px">Historical</div>
<div id="tabline" class="abs"></div>
<div id="learn" class="abs">Learn more about how the Air Quality Index [AQI] is calculated from the EPA <a>here</a>.</div>

<div id="chart" class="abs"></div>
<svg class="abs" style="left:13px;top:318.5px" width="463.5" height="181.5" viewBox="13 318.5 463.5 181.5" font-family="Liberation Sans, sans-serif">
<path d="M57.0 441.18H470.5" stroke="#e4e4e4" stroke-width="1"/>
<path d="M57.0 421.86H470.5" stroke="#e4e4e4" stroke-width="1"/>
<path d="M57.0 402.54H470.5" stroke="#e4e4e4" stroke-width="1"/>
<path d="M57.0 383.22H470.5" stroke="#e4e4e4" stroke-width="1"/>
<path d="M57.0 363.90H470.5" stroke="#e4e4e4" stroke-width="1"/>
<rect x="61.51" y="411.62" width="8.2" height="48.88" fill="#99004c" stroke="#3a0a0a" stroke-opacity=".75" stroke-width=".8"/>
<rect x="78.74" y="422.05" width="8.2" height="38.45" fill="#ff0000" stroke="#3a0a0a" stroke-opacity=".75" stroke-width=".8"/>
<rect x="95.97" y="423.79" width="8.2" height="36.71" fill="#ff0000" stroke="#3a0a0a" stroke-opacity=".75" stroke-width=".8"/>
<rect x="113.20" y="424.76" width="8.2" height="35.74" fill="#ff0000" stroke="#3a0a0a" stroke-opacity=".75" stroke-width=".8"/>
<rect x="130.43" y="425.53" width="8.2" height="34.97" fill="#ff0000" stroke="#3a0a0a" stroke-opacity=".75" stroke-width=".8"/>
<rect x="147.66" y="422.05" width="8.2" height="38.45" fill="#ff0000" stroke="#3a0a0a" stroke-opacity=".75" stroke-width=".8"/>
<rect x="164.89" y="423.79" width="8.2" height="36.71" fill="#ff0000" stroke="#3a0a0a" stroke-opacity=".75" stroke-width=".8"/>
<rect x="182.12" y="420.31" width="8.2" height="40.19" fill="#99004c" stroke="#3a0a0a" stroke-opacity=".75" stroke-width=".8"/>
<rect x="199.35" y="418.58" width="8.2" height="41.92" fill="#99004c" stroke="#3a0a0a" stroke-opacity=".75" stroke-width=".8"/>
<rect x="216.58" y="419.35" width="8.2" height="41.15" fill="#99004c" stroke="#3a0a0a" stroke-opacity=".75" stroke-width=".8"/>
<rect x="233.81" y="422.05" width="8.2" height="38.45" fill="#ff0000" stroke="#3a0a0a" stroke-opacity=".75" stroke-width=".8"/>
<rect x="251.04" y="424.76" width="8.2" height="35.74" fill="#ff0000" stroke="#3a0a0a" stroke-opacity=".75" stroke-width=".8"/>
<rect x="268.26" y="427.27" width="8.2" height="33.23" fill="#ff0000" stroke="#3a0a0a" stroke-opacity=".75" stroke-width=".8"/>
<rect x="285.49" y="428.62" width="8.2" height="31.88" fill="#ff0000" stroke="#3a0a0a" stroke-opacity=".75" stroke-width=".8"/>
<rect x="302.72" y="429.78" width="8.2" height="30.72" fill="#ff0000" stroke="#3a0a0a" stroke-opacity=".75" stroke-width=".8"/>
<rect x="319.95" y="429.78" width="8.2" height="30.72" fill="#ff0000" stroke="#3a0a0a" stroke-opacity=".75" stroke-width=".8"/>
<rect x="337.18" y="431.13" width="8.2" height="29.37" fill="#ff0000" stroke="#3a0a0a" stroke-opacity=".75" stroke-width=".8"/>
<rect x="354.41" y="439.05" width="8.2" height="21.45" fill="#ff7e00" stroke="#3a0a0a" stroke-opacity=".75" stroke-width=".8"/>
<rect x="371.64" y="429.78" width="8.2" height="30.72" fill="#ff0000" stroke="#3a0a0a" stroke-opacity=".75" stroke-width=".8"/>
<rect x="388.87" y="429.78" width="8.2" height="30.72" fill="#ff0000" stroke="#3a0a0a" stroke-opacity=".75" stroke-width=".8"/>
<rect x="406.10" y="365.25" width="8.2" height="95.25" fill="#4c0026" stroke="#3a0a0a" stroke-opacity=".75" stroke-width=".8"/>
<rect x="423.33" y="353.66" width="8.2" height="106.84" fill="#4c0026" stroke="#3a0a0a" stroke-opacity=".75" stroke-width=".8"/>
<rect x="440.56" y="368.92" width="8.2" height="91.58" fill="#4c0026" stroke="#3a0a0a" stroke-opacity=".75" stroke-width=".8"/>
<rect x="457.79" y="387.66" width="8.2" height="72.84" fill="#4c0026" stroke="#3a0a0a" stroke-opacity=".75" stroke-width=".8"/>
<path d="M57.0 460.5H470.5" stroke="#c0d0e0" stroke-width="1"/>
<path d="M57.00 460.5v5M74.23 460.5v5M91.46 460.5v5M108.69 460.5v5M125.92 460.5v5M143.15 460.5v5M160.38 460.5v5M177.60 460.5v5M194.83 460.5v5M212.06 460.5v5M229.29 460.5v5M246.52 460.5v5M263.75 460.5v5M280.98 460.5v5M298.21 460.5v5M315.44 460.5v5M332.67 460.5v5M349.90 460.5v5M367.12 460.5v5M384.35 460.5v5M401.58 460.5v5M418.81 460.5v5M436.04 460.5v5M453.27 460.5v5M470.50 460.5v5" stroke="#c0d0e0" stroke-width="1"/>
<text x="48" y="461.90" font-size="6.4" fill="#555" text-anchor="end">0</text>
<text x="48" y="442.58" font-size="6.4" fill="#555" text-anchor="end">100</text>
<text x="48" y="423.26" font-size="6.4" fill="#555" text-anchor="end">200</text>
<text x="48" y="403.94" font-size="6.4" fill="#555" text-anchor="end">300</text>
<text x="48" y="384.62" font-size="6.4" fill="#555" text-anchor="end">400</text>
<text x="48" y="365.30" font-size="6.4" fill="#555" text-anchor="end">500</text>
<text transform="translate(67.21 469.10) rotate(-45)" font-size="6.4" fill="#555" text-anchor="end">8 PM</text>
<text transform="translate(84.44 469.10) rotate(-45)" font-size="6.4" fill="#555" text-anchor="end">9 PM</text>
<text transform="translate(101.67 469.10) rotate(-45)" font-size="6.4" fill="#555" text-anchor="end">10 PM</text>
<text transform="translate(118.90 469.10) rotate(-45)" font-size="6.4" fill="#555" text-anchor="end">11 PM</text>
<text transform="translate(136.13 469.10) rotate(-45)" font-size="6.4" fill="#555" text-anchor="end">Jan 8, 2021 12 AM</text>
<text transform="translate(153.36 469.10) rotate(-45)" font-size="6.4" fill="#555" text-anchor="end">1 AM</text>
<text transform="translate(170.59 469.10) rotate(-45)" font-size="6.4" fill="#555" text-anchor="end">2 AM</text>
<text transform="translate(187.82 469.10) rotate(-45)" font-size="6.4" fill="#555" text-anchor="end">3 AM</text>
<text transform="translate(205.05 469.10) rotate(-45)" font-size="6.4" fill="#555" text-anchor="end">4 AM</text>
<text transform="translate(222.28 469.10) rotate(-45)" font-size="6.4" fill="#555" text-anchor="end">5 AM</text>
<text transform="translate(239.51 469.10) rotate(-45)" font-size="6.4" fill="#555" text-anchor="end">6 AM</text>
<text transform="translate(256.74 469.10) rotate(-45)" font-size="6.4" fill="#555" text-anchor="end">7 AM</text>
<text transform="translate(273.96 469.10) rotate(-45)" font-size="6.4" fill="#555" text-anchor="end">8 AM</text>
<text transform="translate(291.19 469.10) rotate(-45)" font-size="6.4" fill="#555" text-anchor="end">9 AM</text>
<text transform="translate(308.42 469.10) rotate(-45)" font-size="6.4" fill="#555" text-anchor="end">10 AM</text>
<text transform="translate(325.65 469.10) rotate(-45)" font-size="6.4" fill="#555" text-anchor="end">11 AM</text>
<text transform="translate(342.88 469.10) rotate(-45)" font-size="6.4" fill="#555" text-anchor="end">12 PM</text>
<text transform="translate(360.11 469.10) rotate(-45)" font-size="6.4" fill="#555" text-anchor="end">1 PM</text>
<text transform="translate(377.34 469.10) rotate(-45)" font-size="6.4" fill="#555" text-anchor="end">2 PM</text>
<text transform="translate(394.57 469.10) rotate(-45)" font-size="6.4" fill="#555" text-anchor="end">3 PM</text>
<text transform="translate(411.80 469.10) rotate(-45)" font-size="6.4" fill="#555" text-anchor="end">4 PM</text>
<text transform="translate(429.03 469.10) rotate(-45)" font-size="6.4" fill="#555" text-anchor="end">5 PM</text>
<text transform="translate(446.26 469.10) rotate(-45)" font-size="6.4" fill="#555" text-anchor="end">6 PM</text>
<text transform="translate(463.49 469.10) rotate(-45)" font-size="6.4" fill="#555" text-anchor="end">7 PM</text>
<text transform="translate(29.4 402.8) rotate(-90)" font-size="6.6" fill="#222" text-anchor="middle">AQI</text>
<text x="245" y="332.1" font-size="11.1" fill="#333" text-anchor="middle">Bishkek - PM2.5</text>
</svg>
<div id="cc" class="abs">
  <div class="h"><div style="font-size:8.75px;line-height:11px;margin-top:4px">Current Conditions</div><div style="font-size:6.56px;line-height:11px;margin-top:.5px">observed at</div><div style="font-size:8.72px;line-height:13px;margin-top:0px">Jan 8, 2021 7:00 PM (LT)</div></div>
  <div class="m">377 AQI<br>Hazardous<br>PM2.5</div>
  <div class="hm"><div class="hh">Health Message</div>AQI values over 300 trigger health warnings<br>of emergency conditions. The entire<br>population is even more likely to be affected<br>by serious health effects.</div>
</div>
</body>
</html>
